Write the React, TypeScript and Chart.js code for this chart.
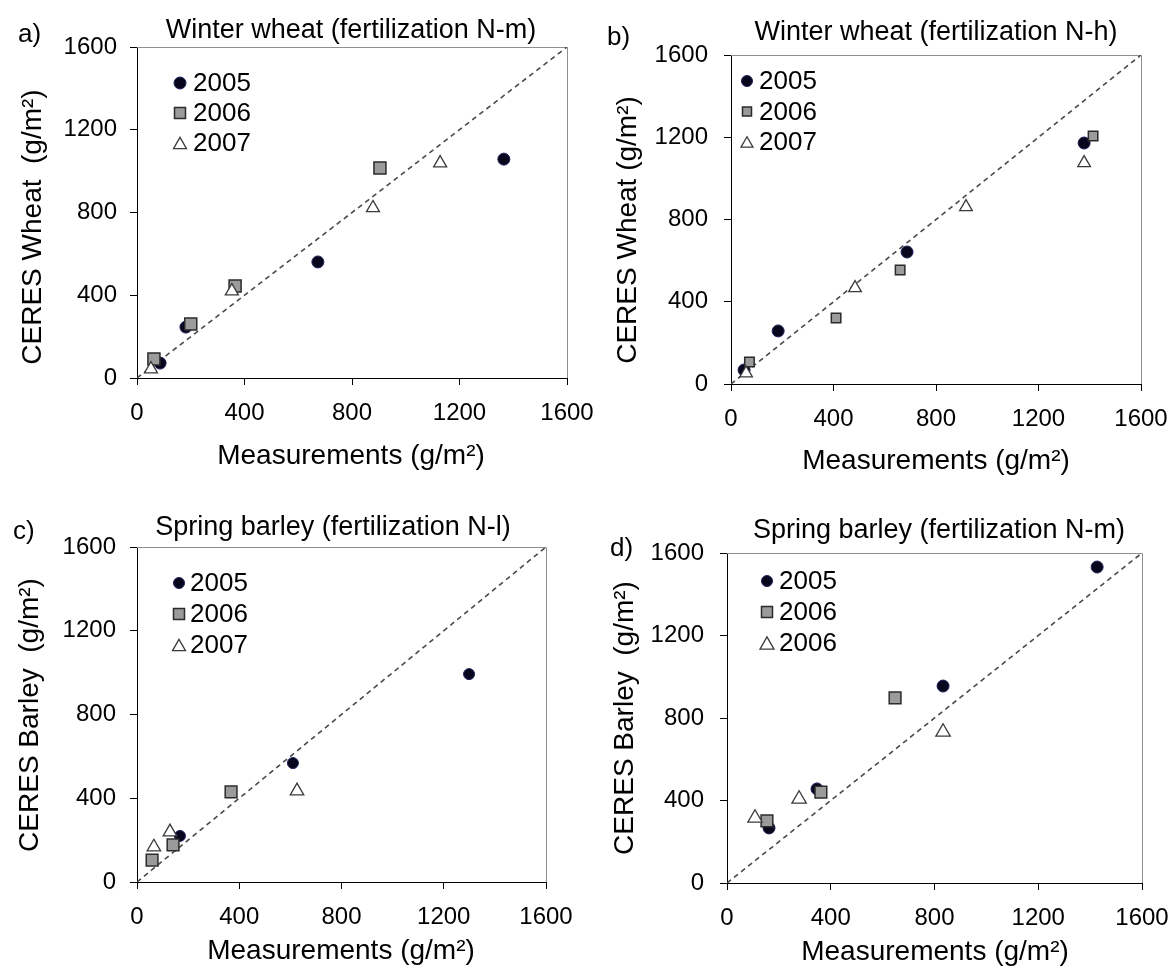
import React, { useEffect, useRef } from "react";
import { Chart, registerables } from "chart.js";

Chart.register(...registerables);

// ---------- data ----------
const axisTicks = [0, 400, 800, 1200, 1600];
const oneToOneLine = [0, 1600];

const seriesLabelsABC = ["2005", "2006", "2007"];
const seriesLabelsD = ["2005", "2006", "2006"];

// a) Winter wheat (fertilization N-m)
const aMeas2005 = [86, 182, 673, 1365];
const aSim2005 = [72, 246, 561, 1058];
const aMeas2006 = [63, 200, 365, 904];
const aSim2006 = [92, 261, 445, 1015];
const aMeas2007 = [52, 353, 878, 1128];
const aSim2007 = [43, 420, 822, 1039];

// b) Winter wheat (fertilization N-h)
const bMeas2005 = [51, 184, 687, 1378];
const bSim2005 = [68, 258, 642, 1172];
const bMeas2006 = [72, 410, 660, 1413];
const bSim2006 = [107, 321, 554, 1206];
const bMeas2007 = [59, 484, 917, 1378];
const bSim2007 = [52, 467, 861, 1075];

// c) Spring barley (fertilization N-l)
const cMeas2005 = [168, 610, 1299];
const cSim2005 = [220, 568, 993];
const cMeas2006 = [59, 141, 368];
const cSim2006 = [105, 177, 430];
const cMeas2007 = [66, 129, 626];
const cSim2007 = [167, 239, 435];

// d) Spring barley (fertilization N-m)
const dMeas2005 = [162, 347, 833, 1427];
const dSim2005 = [267, 456, 955, 1532];
const dMeas2006 = [154, 362, 648];
const dSim2006 = [301, 441, 897];
const dMeas2007 = [108, 278, 833];
const dSim2007 = [315, 407, 732];

// ---------- texts ----------
const xAxisTitle = "Measurements (g/m\u00B2)";

// ---------- styles ----------
const FONT = "'Liberation Sans', Arial, Helvetica, sans-serif";
const TICK_FONT = 24;
const TITLE_FONT = 27;
const AXIS_TITLE_FONT = 28;
const LEGEND_FONT = 26;
const LETTER_FONT = 26;
const TICK_LEN = 7;

Chart.defaults.font.family = FONT;

type Panel = {
  key: string;
  letter: string;
  title: string;
  yTitle: string;
  labels: string[];
  xs: number[][];
  ys: number[][];
  left: number;
  top: number;
  W: number;
  H: number;
  area: { l: number; t: number; r: number; b: number };
  yTickRight: number;
  xTickCenter: number;
  letterPos: [number, number];
  titlePos: [number, number];
  yTitlePos: [number, number];
  xTitlePos: [number, number];
  legendPos: [number, number];
  legendGap: number;
  legendTextX: number;
  markR: [number, number, number];
  legendSize: [number, number, number];
};

const panels: Panel[] = [
  {
    key: "a",
    letter: "a)",
    title: "Winter wheat (fertilization N-m)",
    yTitle: "CERES Wheat  (g/m\u00B2)",
    labels: seriesLabelsABC,
    xs: [aMeas2005, aMeas2006, aMeas2007],
    ys: [aSim2005, aSim2006, aSim2007],
    left: 0, top: 0, W: 620, H: 485,
    area: { l: 137, t: 47, r: 567, b: 378 },
    yTickRight: 117,
    xTickCenter: 413,
    letterPos: [18, 42],
    titlePos: [351, 38],
    yTitlePos: [33, 227],
    xTitlePos: [351, 456],
    legendPos: [180, 83],
    legendGap: 30,
    legendTextX: 193,
    markR: [6, 8.5, 7.5],
    legendSize: [12, 11, 13],
  },
  {
    key: "b",
    letter: "b)",
    title: "Winter wheat (fertilization N-h)",
    yTitle: "CERES Wheat (g/m\u00B2)",
    labels: seriesLabelsABC,
    xs: [bMeas2005, bMeas2006, bMeas2007],
    ys: [bSim2005, bSim2006, bSim2007],
    left: 586, top: 0, W: 586, H: 485,
    area: { l: 145, t: 55, r: 555, b: 384 },
    yTickRight: 122,
    xTickCenter: 419,
    letterPos: [21, 45],
    titlePos: [350, 40],
    yTitlePos: [42, 230],
    xTitlePos: [350, 461],
    legendPos: [161, 81],
    legendGap: 30.5,
    legendTextX: 173,
    markR: [6, 6.7, 7.3],
    legendSize: [11, 9, 12],
  },
  {
    key: "c",
    letter: "c)",
    title: "Spring barley (fertilization N-l)",
    yTitle: "CERES Barley  (g/m\u00B2)",
    labels: seriesLabelsABC,
    xs: [cMeas2005, cMeas2006, cMeas2007],
    ys: [cSim2005, cSim2006, cSim2007],
    left: 0, top: 485, W: 620, H: 486,
    area: { l: 137, t: 62, r: 546, b: 397 },
    yTickRight: 116,
    xTickCenter: 432,
    letterPos: [13, 54],
    titlePos: [333, 50],
    yTitlePos: [30, 230],
    xTitlePos: [341, 466],
    legendPos: [179, 98],
    legendGap: 31,
    legendTextX: 190,
    markR: [5.5, 8.3, 7.8],
    legendSize: [11, 11, 13],
  },
  {
    key: "d",
    letter: "d)",
    title: "Spring barley (fertilization N-m)",
    yTitle: "CERES Barley  (g/m\u00B2)",
    labels: seriesLabelsD,
    xs: [dMeas2005, dMeas2006, dMeas2007],
    ys: [dSim2005, dSim2006, dSim2007],
    left: 586, top: 485, W: 586, H: 486,
    area: { l: 141, t: 68, r: 556, b: 398 },
    yTickRight: 118,
    xTickCenter: 433,
    letterPos: [24, 71],
    titlePos: [353, 53],
    yTitlePos: [39, 233],
    xTitlePos: [349, 467],
    legendPos: [181, 96],
    legendGap: 31,
    legendTextX: 193,
    markR: [6, 8.3, 8.3],
    legendSize: [11, 11, 14],
  },
];

const seriesStyles = [
  { pointStyle: "circle", bg: "#06061c", border: "#1e1e5a", bw: 1 },
  { pointStyle: "rect", bg: "#9b9b9b", border: "#2b2b2b", bw: 1.5 },
  { pointStyle: "triangle", bg: "#ffffff", border: "#3a3a3a", bw: 1.3 },
];

function toPoints(xs: number[], ys: number[]) {
  return xs.map((x, i) => ({ x, y: ys[i] }));
}

function makeChart(canvas: HTMLCanvasElement, p: Panel) {
  const { area, W, H } = p;
  const datasets: any[] = p.xs.map((xs, i) => ({
    label: p.labels[i],
    data: toPoints(xs, p.ys[i]),
    pointStyle: seriesStyles[i].pointStyle,
    pointRadius: p.markR[i],
    pointHoverRadius: p.markR[i],
    backgroundColor: seriesStyles[i].bg,
    borderColor: seriesStyles[i].border,
    borderWidth: seriesStyles[i].bw,
    showLine: false,
    order: 3 - i,
  }));
  datasets.push({
    label: "1:1",
    data: oneToOneLine.map((v) => ({ x: v, y: v })),
    showLine: true,
    borderColor: "#4a4a4a",
    borderWidth: 1.6,
    borderDash: [5, 4],
    pointRadius: 0,
    fill: false,
    order: 10,
  });

  const framePlugin = {
    id: "frame" + p.key,
    beforeDatasetsDraw(chart: any) {
      const ca = chart.chartArea;
      const ctx = chart.ctx;
      ctx.save();
      ctx.strokeStyle = "#8f8f8f";
      ctx.lineWidth = 1;
      ctx.beginPath();
      ctx.moveTo(ca.left, Math.round(ca.top) + 0.5);
      ctx.lineTo(Math.round(ca.right) + 0.5, Math.round(ca.top) + 0.5);
      ctx.lineTo(Math.round(ca.right) + 0.5, ca.bottom);
      ctx.stroke();
      ctx.restore();
    },
  };

  const textPlugin = {
    id: "text" + p.key,
    afterDraw(chart: any) {
      const ctx = chart.ctx;
      ctx.save();
      ctx.fillStyle = "#000";
      // panel letter
      ctx.font = `${LETTER_FONT}px ${FONT}`;
      ctx.textAlign = "left";
      ctx.textBaseline = "alphabetic";
      ctx.fillText(p.letter, p.letterPos[0], p.letterPos[1]);
      // title
      ctx.font = `${TITLE_FONT}px ${FONT}`;
      ctx.textAlign = "center";
      ctx.fillText(p.title, p.titlePos[0], p.titlePos[1]);
      // x axis title
      ctx.font = `${AXIS_TITLE_FONT}px ${FONT}`;
      ctx.textBaseline = "middle";
      ctx.fillText(xAxisTitle, p.xTitlePos[0], p.xTitlePos[1]);
      // y axis title
      ctx.save();
      ctx.translate(p.yTitlePos[0], p.yTitlePos[1]);
      ctx.rotate(-Math.PI / 2);
      ctx.fillText(p.yTitle, 0, 0);
      ctx.restore();
      // legend
      const dsets = chart.data.datasets;
      for (let i = 0; i < 3; i++) {
        const ds = dsets[i];
        const cx = p.legendPos[0];
        const cy = p.legendPos[1] + i * p.legendGap;
        const s = p.legendSize[i];
        ctx.fillStyle = ds.backgroundColor;
        ctx.strokeStyle = ds.borderColor;
        ctx.lineWidth = ds.borderWidth;
        ctx.beginPath();
        if (ds.pointStyle === "circle") {
          ctx.arc(cx, cy, s / 2, 0, Math.PI * 2);
        } else if (ds.pointStyle === "rect") {
          ctx.rect(cx - s / 2, cy - s / 2, s, s);
        } else {
          const h = s * 0.87;
          ctx.moveTo(cx, cy - h / 2);
          ctx.lineTo(cx + s / 2, cy + h / 2);
          ctx.lineTo(cx - s / 2, cy + h / 2);
          ctx.closePath();
        }
        ctx.fill();
        ctx.stroke();
        ctx.fillStyle = "#000";
        ctx.font = `${LEGEND_FONT}px ${FONT}`;
        ctx.textAlign = "left";
        ctx.textBaseline = "middle";
        ctx.fillText(ds.label, p.legendTextX, cy + 1);
      }
      ctx.restore();
    },
  };

  const tickFont = { size: TICK_FONT, family: FONT };
  const xTickPad = p.xTickCenter - area.b - TICK_LEN - TICK_FONT * 0.6;
  const yTickPad = area.l - p.yTickRight - TICK_LEN;

  const axisCommon = (pad: number) => ({
    type: "linear" as const,
    min: 0,
    max: 1600,
    afterBuildTicks: (scale: any) => {
      scale.ticks = axisTicks.map((v) => ({ value: v }));
    },
    ticks: {
      font: tickFont,
      color: "#000",
      padding: pad,
      maxRotation: 0,
      autoSkip: false,
      callback: (v: any) => String(v),
    },
    grid: {
      display: true,
      drawOnChartArea: false,
      drawTicks: true,
      tickLength: TICK_LEN,
      color: "#000",
      lineWidth: 1,
    },
    border: { display: true, color: "#000", width: 1 },
  });

  const zeroPad = (scale: any) => {
    scale.paddingLeft = 0;
    scale.paddingRight = 0;
    scale.paddingTop = 0;
    scale.paddingBottom = 0;
  };

  return new Chart(canvas, {
    type: "scatter",
    data: { datasets },
    options: {
      responsive: false,
      maintainAspectRatio: false,
      animation: false,
      events: [],
      layout: {
        padding: { left: 0, top: area.t, right: W - area.r, bottom: 0 },
      },
      plugins: {
        legend: { display: false },
        tooltip: { enabled: false },
        title: { display: false },
      },
      scales: {
        x: {
          ...axisCommon(xTickPad),
          position: "bottom",
          afterFit: (scale: any) => {
            scale.height = H - area.b;
            zeroPad(scale);
          },
        },
        y: {
          ...axisCommon(yTickPad),
          position: "left",
          afterFit: (scale: any) => {
            scale.width = area.l;
            zeroPad(scale);
          },
        },
      },
    } as any,
    plugins: [framePlugin, textPlugin],
  });
}

function PanelChart({ p }: { p: Panel }) {
  const ref = useRef<HTMLCanvasElement | null>(null);
  useEffect(() => {
    if (!ref.current) return;
    const chart = makeChart(ref.current, p);
    return () => chart.destroy();
  }, [p]);
  return (
    <canvas
      ref={ref}
      width={p.W}
      height={p.H}
      style={{
        position: "absolute",
        left: p.left,
        top: p.top,
        width: p.W,
        height: p.H,
        display: "block",
      }}
    />
  );
}

export default function App() {
  return (
    <div
      style={{
        position: "absolute",
        left: 0,
        top: 0,
        width: 1172,
        height: 971,
        background: "#fff",
        overflow: "hidden",
      }}
    >
      {panels.map((p) => (
        <PanelChart key={p.key} p={p} />
      ))}
    </div>
  );
}
